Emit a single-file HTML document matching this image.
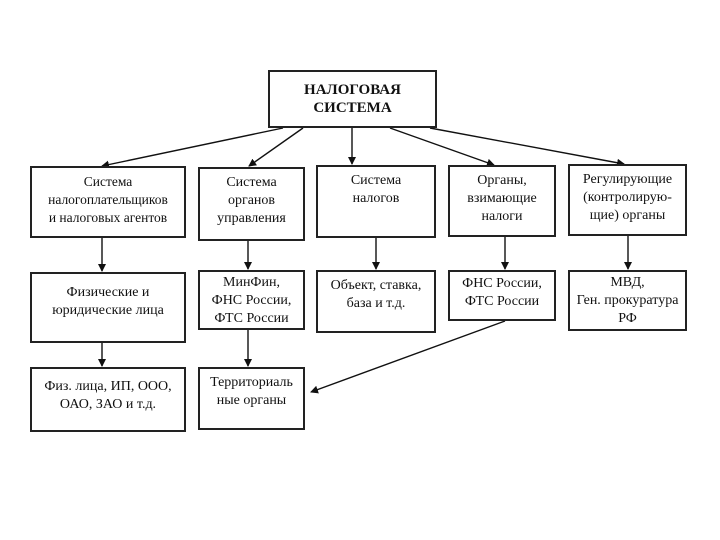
<!DOCTYPE html>
<html><head><meta charset="utf-8"><style>
body{margin:0;width:720px;height:540px;background:#fff;overflow:hidden}
.b{position:absolute;border:2px solid #222;box-sizing:border-box;background:#fff;display:flex;align-items:flex-start;justify-content:center;text-align:center;font-family:"Liberation Serif",serif;font-size:14px;line-height:18px;color:#111;padding-top:5px;white-space:nowrap}
</style></head><body>
<svg width="720" height="540" style="position:absolute;left:0;top:0">
<defs><marker id="a" markerWidth="8" markerHeight="8" refX="7" refY="4" orient="auto" markerUnits="userSpaceOnUse"><path d="M0,0L8,4L0,8z" fill="#111"/></marker></defs>
<g stroke="#111" stroke-width="1.4" fill="none" marker-end="url(#a)">
<line x1="283" y1="128" x2="102" y2="166"/>
<line x1="303" y1="128" x2="249" y2="166"/>
<line x1="352" y1="128" x2="352" y2="164"/>
<line x1="390" y1="128" x2="494" y2="165"/>
<line x1="430" y1="128" x2="624" y2="164"/>
<line x1="102" y1="238" x2="102" y2="271"/>
<line x1="248" y1="241" x2="248" y2="269"/>
<line x1="376" y1="238" x2="376" y2="269"/>
<line x1="505" y1="237" x2="505" y2="269"/>
<line x1="628" y1="236" x2="628" y2="269"/>
<line x1="102" y1="343" x2="102" y2="366"/>
<line x1="248" y1="330" x2="248" y2="366"/>
<line x1="505" y1="321" x2="311" y2="392"/>
</g></svg>
<div class="b" style="left:268px;top:70px;width:169px;height:58px;font-weight:bold;font-size:15px;line-height:18px;padding-top:9px">НАЛОГОВАЯ<br>СИСТЕМА</div>
<div class="b" style="left:30px;top:166px;width:156px;height:72px;font-size:13.5px">Система<br>налогоплательщиков<br>и налоговых агентов</div>
<div class="b" style="left:198px;top:167px;width:107px;height:74px">Система<br>органов<br>управления</div>
<div class="b" style="left:316px;top:165px;width:120px;height:73px">Система<br>налогов</div>
<div class="b" style="left:448px;top:165px;width:108px;height:72px">Органы,<br>взимающие<br>налоги</div>
<div class="b" style="left:568px;top:164px;width:119px;height:72px">Регулирующие<br>(контролирую-<br>щие) органы</div>
<div class="b" style="left:30px;top:272px;width:156px;height:71px;padding-top:10px">Физические и<br>юридические лица</div>
<div class="b" style="left:198px;top:270px;width:107px;height:60px;padding-top:2px">МинФин,<br>ФНС России,<br>ФТС России</div>
<div class="b" style="left:316px;top:270px;width:120px;height:63px">Объект, ставка,<br>база и т.д.</div>
<div class="b" style="left:448px;top:270px;width:108px;height:51px;padding-top:3px">ФНС России,<br>ФТС России</div>
<div class="b" style="left:568px;top:270px;width:119px;height:61px;padding-top:2px">МВД,<br>Ген. прокуратура<br>РФ</div>
<div class="b" style="left:30px;top:367px;width:156px;height:65px;padding-top:9px">Физ. лица, ИП, ООО,<br>ОАО, ЗАО и т.д.</div>
<div class="b" style="left:198px;top:367px;width:107px;height:63px;padding-top:5px">Территориаль<br>ные органы</div>
</body></html>
